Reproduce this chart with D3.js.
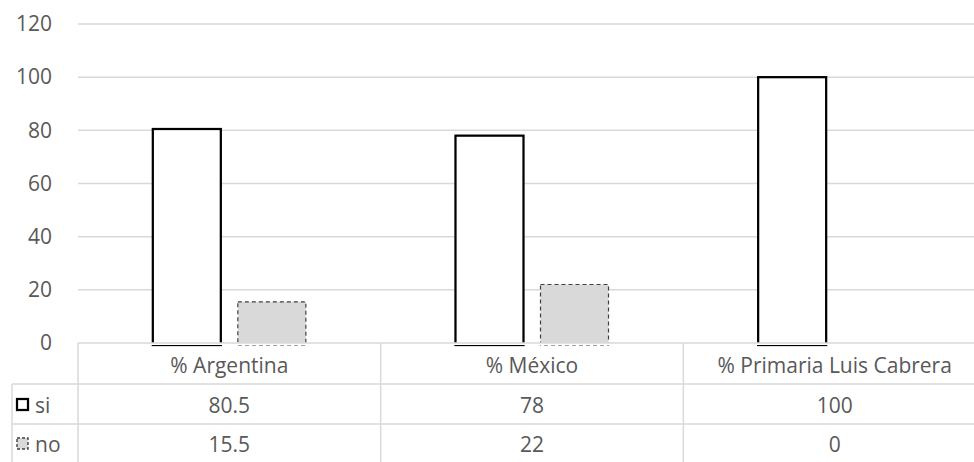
<!DOCTYPE html>
<html>
<head>
<meta charset="utf-8">
<script src="https://cdn.jsdelivr.net/npm/d3@7"></script>
<style>
  html, body { margin: 0; padding: 0; background: #fff; }
  svg { display: block; }
  text { font-family: "Open Sans", sans-serif; fill: #595959; }
</style>
</head>
<body>
<svg id="chart" width="974" height="462"></svg>
<script>
const categories = ["% Argentina", "% México", "% Primaria Luis Cabrera"];
const seriesNames = ["si", "no"];
const siValues = [80.5, 78, 100];
const noValues = [15.5, 22, 0];
const yTicks = [0, 20, 40, 60, 80, 100, 120];

const series = [
  { name: seriesNames[0], values: siValues },
  { name: seriesNames[1], values: noValues }
];

const FS = 21;
const svg = d3.select("#chart");
const plotLeft = 78, plotRight = 986, plotTop = 24, plotBottom = 343;
const rowLines = [343, 384, 424, 470];
const tableLeft = 12;

const x = d3.scaleBand().domain(categories).range([plotLeft, plotRight]).paddingInner(0).paddingOuter(0);
const xs = d3.scaleBand().domain(seriesNames).range([0, x.bandwidth()]).paddingInner(0.2).paddingOuter(0.88);
const y = d3.scaleLinear().domain([0, 120]).range([plotBottom, plotTop]);

// gridlines
svg.append("g").selectAll("line").data(yTicks.filter(t => t > 0)).join("line")
  .attr("x1", plotLeft).attr("x2", plotRight)
  .attr("y1", d => y(d)).attr("y2", d => y(d))
  .attr("stroke", "#d9d9d9").attr("stroke-width", 1.5);

// y axis labels
const yAxis = d3.axisLeft(y).tickValues(yTicks).tickSize(0).tickPadding(0);
const yg = svg.append("g").attr("transform", `translate(52,0)`).call(yAxis);
yg.select(".domain").remove();
yg.selectAll("text").attr("font-size", FS).attr("fill", "#595959")
  .style("font-family", '"Open Sans", sans-serif');

// bars
const styles = {
  si: { fill: "#ffffff", stroke: "#000000", width: 2.25, dash: null },
  no: { fill: "#d9d9d9", stroke: "#404040", width: 1.2, dash: "4,3" }
};
const groups = svg.append("g").selectAll("g").data(series).join("g");
groups.selectAll("rect").data(s => s.values.map((v, i) => ({ name: s.name, cat: categories[i], v })).filter(d => d.v > 0))
  .join("rect")
  .attr("x", d => x(d.cat) + xs(d.name))
  .attr("width", xs.bandwidth())
  .attr("y", d => y(d.v))
  .attr("height", d => y(0) - y(d.v) + 2)
  .attr("fill", d => styles[d.name].fill)
  .attr("stroke", d => styles[d.name].stroke)
  .attr("stroke-width", d => styles[d.name].width)
  .attr("stroke-dasharray", d => styles[d.name].dash);

// data table
const tg = svg.append("g");
const lineColor = "#d9d9d9";
tg.append("rect").attr("x", plotLeft - 1).attr("y", rowLines[0]).attr("width", plotRight - plotLeft + 2).attr("height", 2).attr("fill", "#fff");
tg.append("line").attr("x1", plotLeft).attr("x2", plotRight).attr("y1", rowLines[0]).attr("y2", rowLines[0])
  .attr("stroke", lineColor).attr("stroke-width", 1.5);
[rowLines[1], rowLines[2]].forEach(yy => {
  tg.append("line").attr("x1", tableLeft).attr("x2", plotRight).attr("y1", yy).attr("y2", yy)
    .attr("stroke", lineColor).attr("stroke-width", 1.5);
});
tg.append("line").attr("x1", tableLeft).attr("x2", tableLeft).attr("y1", rowLines[1]).attr("y2", rowLines[3])
  .attr("stroke", lineColor).attr("stroke-width", 1.5);
const colEdges = categories.map(c => x(c)).concat([plotRight]);
colEdges.forEach(cx => {
  tg.append("line").attr("x1", cx).attr("x2", cx).attr("y1", rowLines[0]).attr("y2", rowLines[3])
    .attr("stroke", lineColor).attr("stroke-width", 1.5);
});
tg.selectAll("text.cat").data(categories).join("text").attr("class", "cat")
  .attr("x", d => x(d) + x.bandwidth() / 2).attr("y", (rowLines[0] + rowLines[1]) / 2 + 1)
  .attr("text-anchor", "middle").attr("dominant-baseline", "central")
  .attr("font-size", FS).text(d => d);
series.forEach((s, si) => {
  const rowMid = si === 0 ? (rowLines[1] + rowLines[2]) / 2 + 1 : 444;
  tg.selectAll("text.v" + si).data(s.values).join("text").attr("class", "v" + si)
    .attr("x", (d, i) => x(categories[i]) + x.bandwidth() / 2).attr("y", rowMid)
    .attr("text-anchor", "middle").attr("dominant-baseline", "central")
    .attr("font-size", FS).text(d => d);
  const st = styles[s.name];
  tg.append("rect").attr("x", 17).attr("y", rowMid - 6).attr("width", 11).attr("height", 11)
    .attr("fill", st.fill).attr("stroke", st.stroke).attr("stroke-width", s.name === "si" ? 2.25 : 1.4)
    .attr("stroke-dasharray", s.name === "si" ? null : "3,2");
  tg.append("text").attr("x", 35).attr("y", rowMid).attr("dominant-baseline", "central")
    .attr("font-size", FS).text(s.name);
});
</script>
</body>
</html>
